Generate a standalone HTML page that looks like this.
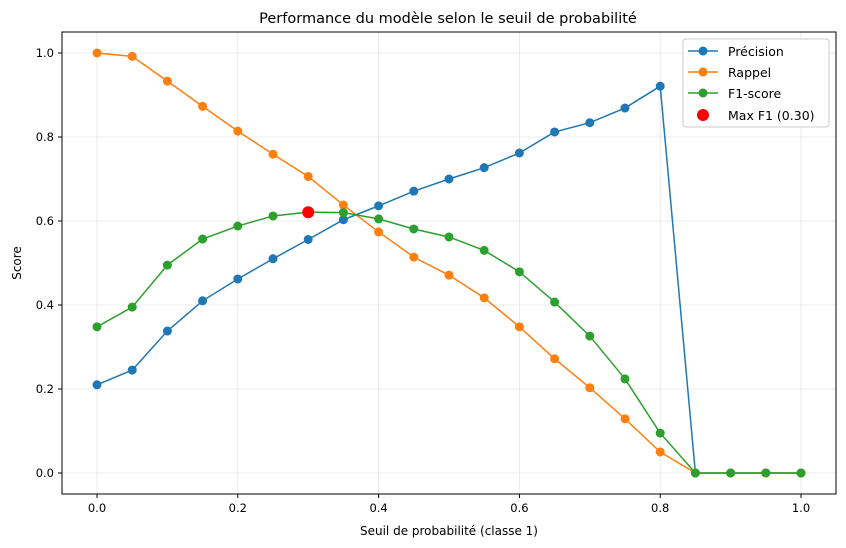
<!DOCTYPE html>
<html><head><meta charset="utf-8"><style>
body{margin:0;background:#fff}
svg{display:block;font-family:"DejaVu Sans","Liberation Sans",sans-serif}
</style></head><body>
<svg id="s" width="846" height="548" xmlns="http://www.w3.org/2000/svg">
<rect width="846" height="548" fill="#fff"/>
<g id="grid" stroke="#e6e6e6" stroke-width="0.8"></g>
<text x="448" y="23" font-size="14.5" text-anchor="middle" fill="#000">Performance du modèle selon le seuil de probabilité</text>
<text x="449" y="535" font-size="12" text-anchor="middle">Seuil de probabilité (classe 1)</text>
<text transform="translate(21,263) rotate(-90)" font-size="12" text-anchor="middle">Score</text>
<g id="ticks" font-size="11.5"></g>
<g id="series"></g>
<circle cx="308.2" cy="212.2" r="6" fill="#ff0000"/>
<rect x="62" y="32" width="774" height="462" fill="none" stroke="#000" stroke-width="1"/>
<rect x="683" y="39" width="146" height="88" rx="3" fill="#fff" fill-opacity="0.85" stroke="#cccccc"/>
<g font-size="12.5">
<line x1="688" y1="51" x2="718" y2="51" stroke="#1f77b4" stroke-width="1.5"/><circle cx="703" cy="51" r="4.5" fill="#1f77b4"/>
<text x="728" y="56">Précision</text>
<line x1="688" y1="72" x2="718" y2="72" stroke="#ff7f0e" stroke-width="1.5"/><circle cx="703" cy="72" r="4.5" fill="#ff7f0e"/>
<text x="728" y="77">Rappel</text>
<line x1="688" y1="93" x2="718" y2="93" stroke="#2ca02c" stroke-width="1.5"/><circle cx="703" cy="93" r="4.5" fill="#2ca02c"/>
<text x="728" y="98">F1-score</text>
<circle cx="703" cy="115" r="6" fill="#ff0000"/>
<text x="728" y="120">Max F1 (0.30)</text>
</g>
</svg>
<script>
var NS="http://www.w3.org/2000/svg";
function X(v){return 97+704*v} function Y(v){return 473-420*v}
function el(p,t,a){var e=document.createElementNS(NS,t);for(var k in a)e.setAttribute(k,a[k]);p.appendChild(e);return e}
var g=document.getElementById('grid'),tk=document.getElementById('ticks'),sr=document.getElementById('series');
for(var i=0;i<=5;i++){var v=i*0.2,x=X(v),y=Y(v);
el(g,'line',{x1:x,y1:32,x2:x,y2:494});el(g,'line',{x1:62,y1:y,x2:836,y2:y});
el(tk,'line',{x1:x,y1:494,x2:x,y2:498,stroke:'#000'});el(tk,'line',{x1:58,y1:y,x2:62,y2:y,stroke:'#000'});
var t=el(tk,'text',{x:x,y:512,'text-anchor':'middle'});t.textContent=v.toFixed(1);
t=el(tk,'text',{x:54,y:y+4,'text-anchor':'end'});t.textContent=v.toFixed(1);}
var P=[0.21,0.245,0.338,0.41,0.462,0.51,0.556,0.603,0.636,0.671,0.70,0.727,0.762,0.812,0.834,0.869,0.921,0,0,0,0];
var R=[1.0,0.992,0.933,0.873,0.814,0.759,0.706,0.638,0.574,0.514,0.471,0.417,0.348,0.272,0.203,0.129,0.05,0,0,0,0];
var F=[0.348,0.395,0.495,0.557,0.588,0.612,0.621,0.62,0.605,0.581,0.562,0.53,0.479,0.407,0.326,0.224,0.095,0,0,0,0];
[[P,'#1f77b4'],[R,'#ff7f0e'],[F,'#2ca02c']].forEach(function(s){
var pts=s[0].map(function(v,i){return X(i*0.05)+','+Y(v)}).join(' ');
el(sr,'polyline',{points:pts,fill:'none',stroke:s[1],'stroke-width':1.5});
s[0].forEach(function(v,i){el(sr,'circle',{cx:X(i*0.05),cy:Y(v),r:4.5,fill:s[1]})});});
</script>
</body></html>
